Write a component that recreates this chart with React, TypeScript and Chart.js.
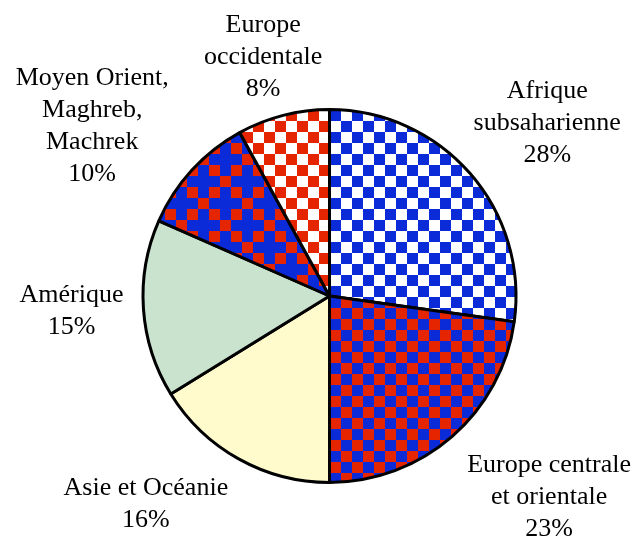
import React, { useEffect, useRef } from "react";
import { Chart, registerables } from "chart.js";

Chart.register(...registerables);

const categories = [
  "Afrique subsaharienne",
  "Europe centrale et orientale",
  "Asie et Océanie",
  "Amérique",
  "Moyen Orient, Maghreb, Machrek",
  "Europe occidentale",
];
const values = [27.2, 22.8, 16.2, 15.4, 10.4, 8.0];
const labelLines = [
  ["Afrique", "subsaharienne", "28%"],
  ["Europe centrale", "et orientale", "23%"],
  ["Asie et Océanie", "16%"],
  ["Amérique", "15%"],
  ["Moyen Orient,", "Maghreb,", "Machrek", "10%"],
  ["Europe", "occidentale", "8%"],
];

const BLUE = "#0B2BD8";
const RED = "#E42500";
const WHITE = "#FFFFFF";
const GREEN = "#CAE3CF";
const YELLOW = "#FFFBCC";
const CELL = 11;

function checker(a: string, b: string, dpr: number): CanvasPattern | string {
  const s = CELL * dpr;
  const c = document.createElement("canvas");
  c.width = Math.round(s * 2);
  c.height = Math.round(s * 2);
  const ctx = c.getContext("2d")!;
  ctx.fillStyle = a;
  ctx.fillRect(0, 0, s * 2, s * 2);
  ctx.fillStyle = b;
  ctx.fillRect(s, 0, s, s);
  ctx.fillRect(0, s, s, s);
  return ctx.createPattern(c, "repeat") || a;
}

function crossPattern(bg: string, fg: string, dpr: number): CanvasPattern | string {
  const n = 4;
  const s = CELL * dpr;
  const c = document.createElement("canvas");
  c.width = Math.round(s * n);
  c.height = Math.round(s * n);
  const ctx = c.getContext("2d")!;
  ctx.fillStyle = bg;
  ctx.fillRect(0, 0, c.width, c.height);
  ctx.fillStyle = fg;
  for (let r = 0; r < n; r++) {
    for (let k = 0; k < n; k++) {
      if ((k + r) % 4 === 0 || (k - r + 4) % 4 === 0) {
        ctx.fillRect(k * s, r * s, s, s);
      }
    }
  }
  return ctx.createPattern(c, "repeat") || bg;
}

// layout tweaks for label placement (pixels relative to an anchor just outside the arc)
const LABEL_GAP = 20;
const LABEL_SHIFT: [number, number][] = [
  [62, -37],
  [84, 45],
  [-83, 28],
  [-52, 1],
  [-85, -30],
  [-15, -39],
];
const LINE_H = 32;
const FONT = "26px \"Liberation Serif\", \"Times New Roman\", Times, serif";

const labelPlugin = {
  id: "outerLabels",
  afterDraw(chart: any) {
    const ctx: CanvasRenderingContext2D = chart.ctx;
    const meta = chart.getDatasetMeta(0);
    ctx.save();
    ctx.font = FONT;
    ctx.fillStyle = "#000";
    ctx.textAlign = "center";
    ctx.textBaseline = "middle";
    meta.data.forEach((arc: any, i: number) => {
      const p = arc.getProps(["x", "y", "startAngle", "endAngle", "outerRadius"], true);
      const mid = (p.startAngle + p.endAngle) / 2;
      const rr = p.outerRadius + LABEL_GAP;
      const ax = p.x + Math.cos(mid) * rr + LABEL_SHIFT[i][0];
      const ay = p.y + Math.sin(mid) * rr + LABEL_SHIFT[i][1];
      const lines = labelLines[i];
      const top = ay - ((lines.length - 1) * LINE_H) / 2;
      lines.forEach((t, j) => ctx.fillText(t, ax, top + j * LINE_H));
    });
    ctx.restore();
  },
};

export default function App() {
  const ref = useRef<HTMLCanvasElement | null>(null);
  useEffect(() => {
    if (!ref.current) return;
    const dpr = window.devicePixelRatio || 1;
    const fills = [
      checker(BLUE, WHITE, dpr),
      checker(RED, BLUE, dpr),
      YELLOW,
      GREEN,
      crossPattern(BLUE, RED, dpr),
      checker(RED, WHITE, dpr),
    ];
    const chart = new Chart(ref.current, {
      type: "pie",
      data: {
        labels: categories,
        datasets: [
          {
            data: values,
            backgroundColor: fills as any,
            borderColor: "#000000",
            borderWidth: 3,
          },
        ],
      },
      options: {
        responsive: false,
        animation: false,
        devicePixelRatio: dpr,
        layout: { padding: { left: 141, right: 116, top: 108, bottom: 56 } },
        plugins: {
          legend: { display: false },
          tooltip: { enabled: false },
        },
      },
      plugins: [labelPlugin],
    });
    return () => chart.destroy();
  }, []);
  return (
    <div style={{ position: "fixed", left: 0, top: 0, width: 634, height: 540, background: "#fff" }}>
      <canvas ref={ref} width={634} height={540} style={{ width: 634, height: 540 }} />
    </div>
  );
}
